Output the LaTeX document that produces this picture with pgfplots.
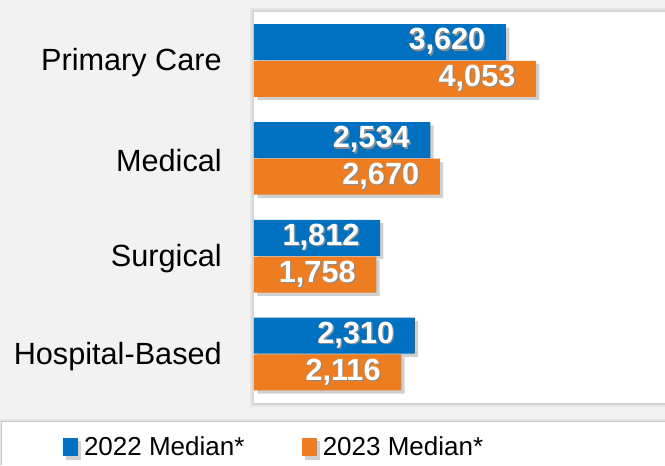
\documentclass[border=0pt]{standalone}
\usepackage{pgfplots}
\pgfplotsset{compat=1.18}
\usepackage{fontspec}
\setmainfont{Liberation Sans}
\definecolor{cblue}{HTML}{0070C0}
\definecolor{corange}{HTML}{EE7D22}
\definecolor{bggray}{HTML}{F2F2F2}
\newcommand{\shnum}[1]{\makebox[0pt][l]{\raisebox{-1.1pt}{\hspace{1.1pt}\textcolor{black!45}{#1}}}#1}
\begin{document}
\begin{tikzpicture}[x=0.75pt,y=0.75pt]
\useasboundingbox (0,0) rectangle (665,465);
\fill[bggray] (0,0) rectangle (665,465);
% plot area shadow
\fill[black!5] (248,56) rectangle (665,459);
\fill[black!10] (250,58) rectangle (665,457);
\fill[black!16] (252,60) rectangle (665,455);
% legend box
\fill[black!5] (0,0) rectangle (665,48);
\fill[black!10] (0,0) rectangle (665,46);
\fill[black!22] (1,0) rectangle (665,44);
\fill[white] (2,0) rectangle (665,43);
\begin{axis}[
  at={(190.5pt,46.5pt)}, anchor=south west,
  scale only axis, width=308.25pt, height=293.25pt,
  xbar,
  xmin=0, xmax=5905,
  ymin=-0.496, ymax=3.5, y dir=reverse,
  ytick={0,1,2,3},
  yticklabels={Primary Care, Medical, Surgical, Hospital-Based},
  yticklabel style={font=\fontsize{23}{27}\selectfont, inner sep=0pt, xshift=-24pt, yshift=-1.5pt, text=black},
  xtick=\empty,
  major tick length=0pt,
  axis line style={draw=none},
  axis background/.style={fill=white},
  bar width=27pt,
  point meta=x,
  nodes near coords={\shnum{\pgfmathprintnumber{\pgfplotspointmeta}}},
  every node near coord/.append style={anchor=east, xshift=-12pt, text=white,
     font=\bfseries\fontsize{23}{27}\selectfont, /pgf/number format/assume math mode=true,
     /pgf/number format/1000 sep={,}},
  legend image code/.code={\fill[#1] (0pt,-7.1pt) rectangle (11.25pt,7.1pt); \path (15.75pt,0pt);},
  legend columns=2,
  legend style={at={(-0.4647,-0.1125)}, anchor=west, draw=none, fill=none,
    inner sep=0pt, outer sep=0pt,
    nodes={inner sep=0pt, font=\fontsize{19.5}{23}\selectfont},
    /tikz/every even column/.append style={column sep=43pt}},
  legend cell align=left,
]
\addplot[fill=cblue, draw=none, bar shift=13.75pt,
  preaction={fill=black!30, opacity=0.6, transform canvas={xshift=2.5pt, yshift=-2.5pt}},
  legend image code/.code={\fill[cblue] (0pt,-7.1pt) rectangle (11.25pt,7.1pt); \path (15.75pt,0pt);}]
  coordinates {(3620,0) (2534,1) (1812,2) (2310,3)};
\addplot[fill=corange, draw=none, bar shift=-13.75pt,
  preaction={fill=black!30, opacity=0.6, transform canvas={xshift=2.5pt, yshift=-2.5pt}},
  legend image code/.code={\fill[corange] (0pt,-7.1pt) rectangle (11.25pt,7.1pt); \path (15.75pt,0pt);}]
  coordinates {(4053,0) (2670,1) (1758,2) (2116,3)};
\legend{2022 Median*, 2023 Median*}
\end{axis}
\end{tikzpicture}
\end{document}
